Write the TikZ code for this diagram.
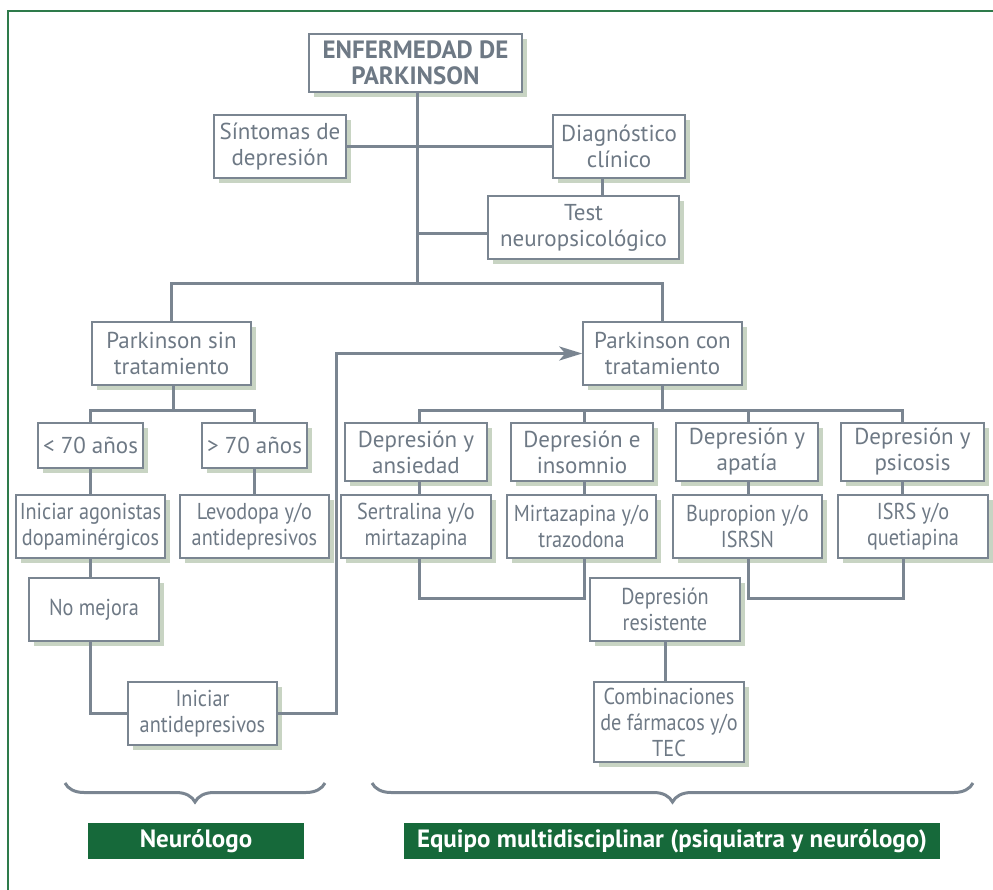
\documentclass[tikz,border=0pt]{standalone}
\usepackage{fontspec}
\setmainfont{PT Sans}
\newfontfamily\narrowfont{PT Sans}[FakeStretch=0.88]
\usetikzlibrary{arrows.meta,shadows,decorations.pathreplacing}

\definecolor{slate}{HTML}{6E7985}
\definecolor{wire}{HTML}{7A8591}
\definecolor{shadowgreen}{HTML}{C8D4C3}
\definecolor{forest}{HTML}{16693A}
\definecolor{framegreen}{HTML}{2E7B4B}

\begin{document}
\begin{tikzpicture}
  [x=1pt, y=-1pt,
     box/.style={draw=wire,
                 line width=1.5pt,
                 fill=white,
                 text=slate,
                 inner sep=0pt,
                 align=center,
                 font=\fontsize{23}{26}\selectfont,
                 drop shadow={shadow xshift=5pt, shadow yshift=-5pt,
                              fill=shadowgreen, opacity=1}},
     slim/.style={box,
                 font=\narrowfont\fontsize{23}{26}\selectfont},
     dims/.style 2 args={minimum width=#1, minimum height=#2},
     link/.style={draw=wire, line width=3pt},
     team/.style={fill=forest,
                 text=white,
                 inner sep=0pt,
                 font=\bfseries\fontsize{25}{28}\selectfont},
     curly/.style={draw=wire, line width=3pt, decorate,
                 decoration={brace, mirror, amplitude=19pt}}
  ]
    \useasboundingbox (0,0) rectangle (993,890);
    \draw[draw=framegreen, line width=2pt] (993,11) -- (8,11) -- (8,890);

    % top of the tree
    \node[box, dims={213}{58}, font=\bfseries\fontsize{25}{26}\selectfont]
        (pd) at (415.5,63) {ENFERMEDAD DE\\PARKINSON};
    \node[box, dims={132}{63}] (symptoms) at (280,146.5) {Síntomas de\\depresión};
    \node[box, dims={132}{63}] (diagnosis) at (619,146.5) {Diagnóstico\\clínico};
    \node[box, dims={191}{63}] (neurotest) at (583.5,227.5) {Test\\neuropsicológico};

    % left branch
    \node[box, dims={159}{63}] (untreated) at (171.5,353.5) {Parkinson sin\\tratamiento};
    \node[box, dims={105}{45}] (young) at (90.5,445.5) {< 70 años};
    \node[box, dims={105}{45}] (old) at (254.5,445.5) {> 70 años};
    \node[slim, dims={149}{63}] (agonists) at (90.5,526.5) {Iniciar agonistas\\dopaminérgicos};
    \node[slim, dims={149}{63}] (levodopa) at (254.5,526.5) {Levodopa y/o\\antidepresivos};
    \node[slim, dims={130}{63}] (nobetter) at (94,609.5) {No mejora};
    \node[slim, dims={149}{63}] (startad) at (202.5,713.5) {Iniciar\\antidepresivos};

    % right branch
    \node[box, dims={159}{63}] (treated) at (662.5,353.5) {Parkinson con\\tratamiento};
    \node[box, dims={142}{58}] (dep1) at (416,452) {Depresión y\\ansiedad};
    \node[box, dims={142}{58}] (dep2) at (582,452) {Depresión e\\insomnio};
    \node[box, dims={142}{58}] (dep3) at (747,452) {Depresión y\\apatía};
    \node[box, dims={143}{58}] (dep4) at (912.5,452) {Depresión y\\psicosis};
    \node[slim, dims={150}{63}] (drug1) at (416,526.5) {Sertralina y/o\\mirtazapina};
    \node[slim, dims={149}{63}] (drug2) at (581.5,526.5) {Mirtazapina y/o\\trazodona};
    \node[slim, dims={149}{63}] (drug3) at (747.5,526.5) {Bupropion y/o\\ISRSN};
    \node[slim, dims={150}{63}] (drug4) at (913,526.5) {ISRS y/o\\quetiapina};
    \node[slim, dims={150}{63}] (resist) at (665,609.5) {Depresión\\resistente};
    \node[slim, dims={150}{80}] (comb) at (669,722) {Combinaciones\\de fármacos y/o\\TEC};

    % who treats
    \node[team, dims={216}{36}] (neuro) at (196,841) {Neurólogo};
    \node[team, dims={536}{36}] (multi) at (672,841) {Equipo multidisciplinar (psiquiatra y neurólogo)};

    \coordinate (fork) at (417,284);
    \coordinate (forkL) at (173,410);
    \coordinate (forkR) at (662,410);
    \coordinate (loopback) at (336,500);
    \coordinate (joinL) at (584,598);
    \coordinate (joinR) at (748,598);

    \draw[link] (pd.south -| fork) -- (fork);
    \draw[link] (symptoms.east) -- (diagnosis.west);
    \draw[link] ([xshift=-17pt]diagnosis.south) -- ([xshift=-17pt]diagnosis.south |- neurotest.north);
    \draw[link] ([yshift=-6pt]neurotest.west) -- ([yshift=-6pt]neurotest.west -| fork);
    \draw[link] (untreated.north) |- (fork) -| (treated.north);

    \draw[link] (untreated.south -| forkL) -- (forkL);
    \draw[link] (young.north) |- (forkL) -| (old.north);
    \draw[link] (young.south) -- (agonists.north);
    \draw[link] (old.south) -- (levodopa.north);
    \draw[link] (agonists.south) -- (agonists.south |- nobetter.north);
    \draw[link] (agonists.south |- nobetter.south) |- (startad.west);
    \draw[link, -{Stealth[length=23pt, width=14pt, inset=6pt]}]
        (startad.east) -| (loopback) |- (treated.west);

    \draw[link] (treated.south -| forkR) -- (forkR);
    \draw[link] ([xshift=3pt]dep1.north) |- (forkR) -| ([xshift=-10pt]dep4.north);
    \foreach \i/\s in {2/2.5pt,3/1pt}
        \draw[link] ([xshift=\s]dep\i.north) -- ([xshift=\s]dep\i.north |- forkR);
    \foreach \i/\s in {1/3pt,2/2.5pt,3/1pt,4/-10pt}
        \draw[link] ([xshift=\s]dep\i.south) -- ([xshift=\s]dep\i.south |- drug\i.north);
    \draw[link] ([xshift=3pt]drug1.south) |- (joinL) -- (joinL |- drug2.south);
    \draw[link] ([xshift=-10pt]drug4.south) |- (joinR) -- (joinR |- drug3.south);
    \draw[link] (resist.south) -- (resist.south |- comb.north);

    % braces over the teams
    \draw[curly] (65,783) -- (325,783);
    \draw[curly] (372,783) -- (973,783);

\end{tikzpicture}
\end{document}
